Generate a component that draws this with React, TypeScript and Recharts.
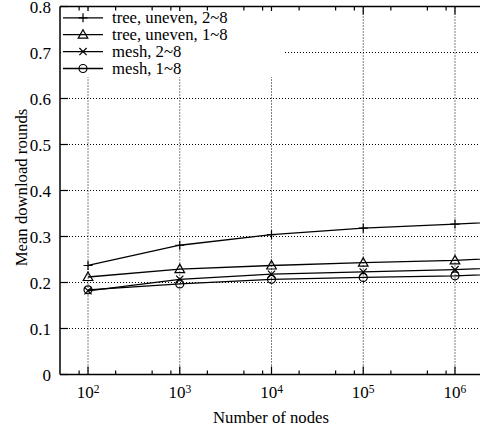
import React from 'react';
import { LineChart, Line, XAxis, YAxis, ReferenceLine, Legend } from 'recharts';

// ---- data ----
const NODES = [100, 1000, 10000, 100000, 1000000, 10000000];
const TREE_UNEVEN_2_8 = [0.237, 0.281, 0.304, 0.318, 0.327, 0.337];
const TREE_UNEVEN_1_8 = [0.212, 0.229, 0.237, 0.243, 0.248, 0.259];
const MESH_2_8 = [0.182, 0.207, 0.218, 0.223, 0.228, 0.236];
const MESH_1_8 = [0.184, 0.197, 0.207, 0.211, 0.2145, 0.2225];

const X_MAJOR = [100, 1000, 10000, 100000, 1000000];
const X_EXP = ['2', '3', '4', '5', '6'];
const X_MINOR_MULT = [2, 5, 8];
const X_DECADES = [10, 100, 1000, 10000, 100000, 1000000];
const X_DOMAIN: [number, number] = [49.5, 1970000];

const Y_TICKS = [0, 0.1, 0.2, 0.3, 0.4, 0.5, 0.6, 0.7, 0.8];
const Y_LABELS = ['0', '0.1', '0.2', '0.3', '0.4', '0.5', '0.6', '0.7', '0.8'];
const Y_GRID = [0.1, 0.2, 0.3, 0.4, 0.5, 0.6, 0.7];

const SERIES_NAMES = ['tree, uneven, 2~8', 'tree, uneven, 1~8', 'mesh, 2~8', 'mesh, 1~8'];
const SERIES_KEYS = ['t28', 't18', 'm28', 'm18'];
const SERIES_MARKERS = ['plus', 'triangle', 'cross', 'circle'];
const SERIES_VALUES = [TREE_UNEVEN_2_8, TREE_UNEVEN_1_8, MESH_2_8, MESH_1_8];

const data = NODES.map((n, i) => {
  const row: Record<string, number> = { n };
  SERIES_KEYS.forEach((k, s) => {
    row[k] = SERIES_VALUES[s][i];
  });
  return row;
});

const minorTicks: number[] = [];
X_DECADES.forEach((d) => {
  X_MINOR_MULT.forEach((m) => {
    const v = d * m;
    if (v > X_DOMAIN[0] * 1.05 && v < X_DOMAIN[1]) minorTicks.push(v);
  });
});
const ALL_X_TICKS = [...X_MAJOR, ...minorTicks].sort((a, b) => a - b);

const FONT = "'Liberation Serif', 'DejaVu Serif', serif";
const TXT = { fontFamily: FONT };
const INK = '#000';

function Marker({ type, cx, cy }: { type: string; cx: number; cy: number }) {
  const common = { stroke: INK, strokeWidth: 1.2, fill: 'none' };
  if (type === 'plus') {
    return (
      <path d={`M${cx - 4.5},${cy}H${cx + 4.5}M${cx},${cy - 4.5}V${cy + 4.5}`} {...common} />
    );
  }
  if (type === 'triangle') {
    return <path d={`M${cx},${cy - 5}L${cx + 4.8},${cy + 3.5}L${cx - 4.8},${cy + 3.5}Z`} {...common} />;
  }
  if (type === 'cross') {
    return (
      <path
        d={`M${cx - 3.6},${cy - 3.6}L${cx + 3.6},${cy + 3.6}M${cx - 3.6},${cy + 3.6}L${cx + 3.6},${cy - 3.6}`}
        {...common}
      />
    );
  }
  return <circle cx={cx} cy={cy} r={4} {...common} />;
}

function BottomTick(props: any) {
  const { x, y, payload } = props;
  const idx = X_MAJOR.indexOf(payload.value);
  const major = idx >= 0;
  return (
    <g>
      <line x1={x} y1={y} x2={x} y2={y - (major ? 8 : 4)} stroke={INK} strokeWidth={1.2} />
      {major && (
        <text x={x} y={y + 23.5} textAnchor="middle" style={TXT} fontSize={17} fill={INK}>
          10
          <tspan dy={-5} fontSize={11.5}>
            {X_EXP[idx]}
          </tspan>
        </text>
      )}
    </g>
  );
}

function TopTick(props: any) {
  const { x, y, payload } = props;
  const major = X_MAJOR.indexOf(payload.value) >= 0;
  return <line x1={x} y1={y} x2={x} y2={y + (major ? 8 : 4)} stroke={INK} strokeWidth={1.2} />;
}

function LeftTick(props: any) {
  const { x, y, payload } = props;
  const idx = Y_TICKS.indexOf(payload.value);
  return (
    <g>
      <line x1={x} y1={y} x2={x + 8} y2={y} stroke={INK} strokeWidth={1.2} />
      <text x={x - 9} y={y + 6} textAnchor="end" style={TXT} fontSize={17} fill={INK}>
        {idx >= 0 ? Y_LABELS[idx] : ''}
      </text>
    </g>
  );
}

function RightTick(props: any) {
  const { x, y } = props;
  return <line x1={x} y1={y} x2={x - 8} y2={y} stroke={INK} strokeWidth={1.2} />;
}

function YLabel(props: any) {
  const vb = props.viewBox || { x: 0, y: 0, width: 60, height: 0 };
  const cx = vb.x + 27;
  const cy = vb.y + vb.height / 2 - 3;
  return (
    <text
      transform={`translate(${cx},${cy}) rotate(-90)`}
      textAnchor="middle"
      style={TXT}
      fontSize={16.7}
      fill={INK}
    >
      Mean download rounds
    </text>
  );
}

function XLabel(props: any) {
  const vb = props.viewBox || { x: 0, y: 0, width: 0, height: 0 };
  return (
    <text x={vb.x + vb.width / 2} y={vb.y + 48.5} textAnchor="middle" style={TXT} fontSize={16.7} fill={INK}>
      Number of nodes
    </text>
  );
}

function LegendBox() {
  return (
    <svg width={222} height={66} style={{ display: 'block' }}>
      {SERIES_NAMES.map((name, i) => {
        const y = 6.8 + i * 16.9;
        return (
          <g key={name}>
            <line x1={2} y1={y} x2={42} y2={y} stroke={INK} strokeWidth={1.3} />
            <Marker type={SERIES_MARKERS[i]} cx={22} cy={y} />
            <text x={51} y={y + 5.5} style={TXT} fontSize={16.7} fill={INK}>
              {name}
            </text>
          </g>
        );
      })}
    </svg>
  );
}

export default function App() {
  return (
    <div
      style={{
        position: 'absolute',
        left: 0,
        top: 0,
        width: 480,
        height: 430,
        overflow: 'hidden',
        background: '#fff',
        fontFamily: FONT,
      }}
    >
      <LineChart width={520} height={430} data={data} margin={{ top: 0, right: 0, bottom: 0, left: 0 }} style={TXT}>
        <XAxis
          dataKey="n"
          type="number"
          scale="log"
          domain={X_DOMAIN}
          allowDataOverflow
          ticks={ALL_X_TICKS}
          interval={0}
          tickSize={0}
          tickMargin={0}
          tickLine={false}
          tick={BottomTick}
          height={55.5}
          axisLine={{ stroke: INK, strokeWidth: 1.5 }}
          label={<XLabel />}
        />
        <XAxis
          xAxisId="top"
          orientation="top"
          dataKey="n"
          type="number"
          scale="log"
          domain={X_DOMAIN}
          allowDataOverflow
          ticks={ALL_X_TICKS}
          interval={0}
          tickSize={0}
          tickMargin={0}
          tickLine={false}
          tick={TopTick}
          height={6.5}
          axisLine={{ stroke: INK, strokeWidth: 1.5 }}
        />
        <YAxis
          type="number"
          domain={[0, 0.8]}
          ticks={Y_TICKS}
          interval={0}
          width={60}
          tickSize={0}
          tickMargin={0}
          tickLine={false}
          tick={LeftTick}
          axisLine={{ stroke: INK, strokeWidth: 1.5 }}
          label={<YLabel />}
        />
        <YAxis
          yAxisId="right"
          orientation="right"
          type="number"
          domain={[0, 0.8]}
          ticks={Y_TICKS}
          interval={0}
          width={38}
          tickSize={0}
          tickMargin={0}
          tickLine={false}
          tick={RightTick}
          axisLine={{ stroke: INK, strokeWidth: 1.5 }}
        />
        {X_MAJOR.map((v) => (
          <ReferenceLine key={'gx' + v} x={v} stroke={INK} strokeWidth={1} strokeDasharray="1 2" />
        ))}
        {Y_GRID.map((v) => (
          <ReferenceLine key={'gy' + v} y={v} stroke={INK} strokeWidth={1} strokeDasharray="1 2" />
        ))}
        {SERIES_KEYS.map((k, i) => (
          <Line
            key={k}
            dataKey={k}
            name={SERIES_NAMES[i]}
            stroke={INK}
            strokeWidth={1.3}
            isAnimationActive={false}
            dot={(p: any) => <Marker key={k + p.index} type={SERIES_MARKERS[i]} cx={p.cx} cy={p.cy} />}
            activeDot={false}
          />
        ))}
        <Legend
          layout="horizontal"
          verticalAlign="middle"
          align="center"
          content={<LegendBox />}
          wrapperStyle={{
            position: 'absolute',
            left: 61,
            top: 10.5,
            width: 222,
            height: 66,
            background: '#fff',
          }}
        />
      </LineChart>
    </div>
  );
}
